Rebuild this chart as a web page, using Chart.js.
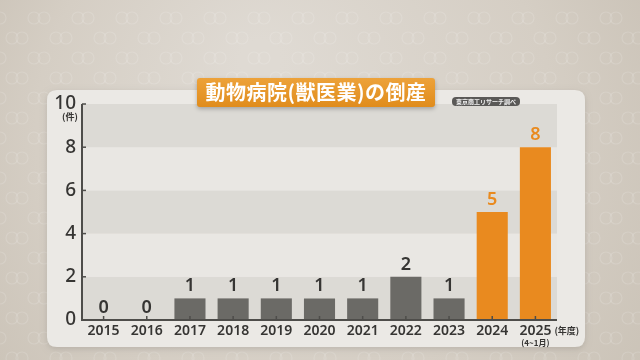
<!DOCTYPE html>
<html><head><meta charset="utf-8">
<script src="https://cdn.jsdelivr.net/npm/chart.js@4.4.1/dist/chart.umd.min.js"></script>
<style>html,body{margin:0;padding:0;background:#d6d0c7}#wrap{width:640px;height:360px;position:relative}</style>
</head><body><div id="wrap"><canvas id="c"></canvas></div>
<script>
const categories = ['2015','2016','2017','2018','2019','2020','2021','2022','2023','2024','2025'];
const values = [0,0,1,1,1,1,1,2,1,5,8];
const highlighted = [false,false,false,false,false,false,false,false,false,true,true];
const yTicks = [0,2,4,6,8,10];
const titleText = '動物病院(獣医業)の倒産';
const sourceText = '東京商工リサーチ調べ';
const yUnit = '(件)';
const xUnit = '(年度)';
const lastNote = '(4~1月)';

const GRAY = '#6b6a66', ORANGE = '#e98a1f', TEXT = '#363533';
const NUMFONT = '"Noto Sans", "DejaVu Sans", sans-serif';
const JPFONT = '"Noto Sans CJK JP", sans-serif';

function rr(ctx,x,y,w,h,r){ctx.beginPath();ctx.moveTo(x+r,y);ctx.lineTo(x+w-r,y);ctx.quadraticCurveTo(x+w,y,x+w,y+r);ctx.lineTo(x+w,y+h-r);ctx.quadraticCurveTo(x+w,y+h,x+w-r,y+h);ctx.lineTo(x+r,y+h);ctx.quadraticCurveTo(x,y+h,x,y+h-r);ctx.lineTo(x,y+r);ctx.quadraticCurveTo(x,y,x+r,y);ctx.closePath();}

const bgPlugin = {
  id:'bg',
  beforeDraw(chart){
    const ctx = chart.ctx, a = chart.chartArea, y = chart.scales.y;
    ctx.save();
    const g = ctx.createRadialGradient(260,60,20,320,180,420);
    g.addColorStop(0,'#dfdad3'); g.addColorStop(0.6,'#d5cec4'); g.addColorStop(1,'#c8c0b4');
    ctx.fillStyle = g; ctx.fillRect(0,0,640,360);
    ctx.strokeStyle = 'rgba(255,255,255,0.14)'; ctx.lineWidth = 1.2;
    for (let row=0; row<18; row++){
      const cy = 18 + row*20, off = (row%2)*22;
      for (let cx=-10+off; cx<660; cx+=44){
        ctx.beginPath(); ctx.arc(cx,cy,6,0,Math.PI*2); ctx.stroke();
        ctx.beginPath(); ctx.arc(cx+10,cy,6,0,Math.PI*2); ctx.stroke();
      }
    }
    ctx.shadowColor = 'rgba(0,0,0,0.12)'; ctx.shadowBlur = 6; ctx.shadowOffsetY = 2;
    ctx.fillStyle = '#ebe9e5'; rr(ctx,47,90,538,257,10); ctx.fill();
    ctx.shadowColor = 'transparent';
    for (let i=0;i<yTicks.length-1;i++){
      const top = y.getPixelForValue(yTicks[i+1]), bot = y.getPixelForValue(yTicks[i]);
      ctx.fillStyle = (i%2===0) ? '#dcdad5' : '#e9e7e3';
      ctx.fillRect(a.left, top, a.right-a.left, bot-top);
    }
    ctx.restore();
  },
  afterDatasetsDraw(chart){
    const ctx = chart.ctx, a = chart.chartArea, x = chart.scales.x, y = chart.scales.y;
    ctx.save();
    ctx.strokeStyle = '#4e4d4a'; ctx.lineWidth = 2;
    ctx.beginPath(); ctx.moveTo(a.left, a.top); ctx.lineTo(a.left, a.bottom); ctx.lineTo(a.right, a.bottom); ctx.stroke();
    ctx.lineWidth = 1.5;
    yTicks.forEach(v=>{ const py = y.getPixelForValue(v); ctx.beginPath(); ctx.moveTo(a.left, py); ctx.lineTo(a.left+4, py); ctx.stroke(); });
    categories.forEach((c,i)=>{ const px = x.getPixelForValue(i); ctx.beginPath(); ctx.moveTo(px, a.bottom); ctx.lineTo(px, a.bottom-4); ctx.stroke(); });
    const meta = chart.getDatasetMeta(0);
    ctx.textAlign = 'center'; ctx.textBaseline = 'alphabetic';
    meta.data.forEach((bar,i)=>{
      ctx.fillStyle = highlighted[i] ? ORANGE : TEXT;
      ctx.font = '600 18px ' + NUMFONT;
      ctx.fillText(String(values[i]), bar.x, bar.y - 7);
    });
    ctx.fillStyle = TEXT;
    ctx.font = 'bold 9px ' + JPFONT; ctx.textAlign = 'center';
    ctx.fillText(yUnit, 70, 120);
    const lx = x.getPixelForValue(categories.length-1);
    ctx.textAlign = 'left'; ctx.font = 'bold 9px ' + JPFONT;
    ctx.fillText(xUnit, lx + 19, 334);
    ctx.textAlign = 'center'; ctx.font = 'bold 8px ' + JPFONT;
    ctx.fillText(lastNote, lx, 346);
    ctx.shadowColor = 'rgba(0,0,0,0.25)'; ctx.shadowBlur = 4; ctx.shadowOffsetY = 2;
    const tg = ctx.createLinearGradient(0,78,0,107);
    tg.addColorStop(0,'#eda23a'); tg.addColorStop(1,'#e08c1c');
    ctx.fillStyle = tg; rr(ctx,197,78,238,29,3); ctx.fill();
    ctx.shadowColor = 'transparent';
    ctx.fillStyle = '#ffffff'; ctx.font = 'bold 20px ' + JPFONT; ctx.textAlign = 'center'; ctx.textBaseline = 'middle';
    ctx.letterSpacing = '0.5px';
    ctx.fillText(titleText, 316, 92.5);
    ctx.letterSpacing = '0px';
    ctx.fillStyle = '#5a5957'; rr(ctx,452,97,68,9,4); ctx.fill();
    ctx.fillStyle = '#f2f2f2'; ctx.font = 'bold 6px ' + JPFONT;
    ctx.fillText(sourceText, 486, 101.5);
    ctx.restore();
  }
};

new Chart(document.getElementById('c'), {
  type:'bar',
  data:{ labels: categories, datasets:[{
    data: values,
    backgroundColor: values.map((v,i)=> highlighted[i] ? ORANGE : GRAY),
    barPercentage: 0.72, categoryPercentage: 1, borderWidth: 0
  }]},
  options:{
    responsive:true, maintainAspectRatio:false, animation:false,
    layout:{ padding:{ top:104, right:83, left:0, bottom:0 } },
    plugins:{ legend:{display:false}, title:{display:false}, tooltip:{enabled:false} },
    scales:{
      x:{ grid:{display:false, drawTicks:false}, border:{display:false},
          ticks:{ color:TEXT, font:{ family:NUMFONT, size:14, weight:'600' }, padding:3, maxRotation:0 },
          afterFit(s){ s.height = 40; } },
      y:{ min:0, max:10, grid:{display:false, drawTicks:false}, border:{display:false},
          ticks:{ stepSize:2, color:TEXT, font:{ family:NUMFONT, size:19, weight:'500' }, padding:6 },
          afterFit(s){ s.width = 82; } }
    }
  },
  plugins:[bgPlugin]
});
</script></body></html>
